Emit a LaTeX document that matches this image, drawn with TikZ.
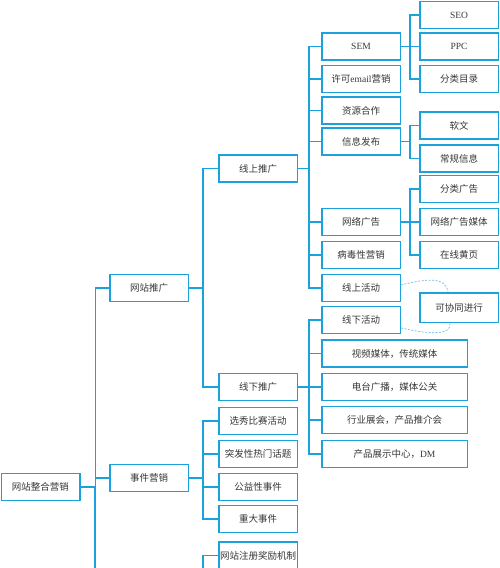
\documentclass[tikz,border=0pt]{standalone}
\usepackage{fontspec}
\setmainfont{Liberation Serif}
\newfontfamily\cjk{Noto Sans CJK SC}
\usepackage{xcolor}
\usepackage{tikz}
\usetikzlibrary{calc}
\usetikzlibrary{positioning}

\definecolor{lineblue}{RGB}{27,161,220}
\definecolor{dashblue}{RGB}{125,192,232}
\definecolor{textgray}{RGB}{55,55,55}

\begin{document}
\begin{tikzpicture}[
    x = 1pt,
    y = -1pt,
    font = \fontsize{9.5}{11}\selectfont,
    boxf/.style = {
      rectangle,
      draw=lineblue,
      fill=white,
      line width=1.5pt,
      text=textgray,
      minimum width=78.5pt,
      minimum height=27pt,
      inner sep=1pt
    },
    widef/.style = {
      boxf,
      minimum width=145.5pt
    },
    linkf/.style = {
      draw=lineblue,
      line width=1.4pt
    },
    dashf/.style = {
      draw=dashblue,
      line width=0.8pt,
      dash pattern=on 2pt off 1.5pt
    }
  ]
    \useasboundingbox (0,0) rectangle (500,568);

    % root and first level
    \node[boxf] (root) at (40.5,487) {\cjk 网站整合营销};
    \node[boxf] (wzgt) at (149,288) {\cjk 网站推广};
    \node[boxf] (sjyx) at (149,478) {\cjk 事件营销};

    % second level
    \node[boxf] (xsgt) at (258,168.5) {\cjk 线上推广};
    \node[boxf] (xxgt) at (258,387) {\cjk 线下推广};
    \node[boxf] (xxbs) at (258,421) {\cjk 选秀比赛活动};
    \node[boxf] (tfrm) at (258,454) {\cjk 突发性热门话题};
    \node[boxf] (gysj) at (258,487) {\cjk 公益性事件};
    \node[boxf] (zdsj) at (258,519) {\cjk 重大事件};
    \node[boxf] (zcjl) at (258,555.5) {\cjk 网站注册奖励机制};

    % third level
    \node[boxf] (sem) at (361,46.7) {SEM};
    \node[boxf] (email) at (361,79) {{\cjk 许可}email{\cjk 营销}};
    \node[boxf] (zyhz) at (361,110.5) {\cjk 资源合作};
    \node[boxf] (xxfb) at (361,141.5) {\cjk 信息发布};
    \node[boxf] (wlgg) at (361,222) {\cjk 网络广告};
    \node[boxf] (bdyx) at (361,255) {\cjk 病毒性营销};
    \node[boxf] (xshd) at (361,288) {\cjk 线上活动};
    \node[boxf] (xxhd) at (361,320) {\cjk 线下活动};
    \node[widef] (spmt) at (394.5,353.5) {\cjk 视频媒体，传统媒体};
    \node[widef] (dtgb) at (394.5,387) {\cjk 电台广播，媒体公关};
    \node[widef] (hyzh) at (394.5,420) {\cjk 行业展会，产品推介会};
    \node[widef] (cpzs) at (394.5,454) {{\cjk 产品展示中心，}DM};

    % fourth level
    \node[boxf] (seo) at (459,15) {SEO};
    \node[boxf] (ppc) at (459,46.5) {PPC};
    \node[boxf] (flml) at (459,79) {\cjk 分类目录};
    \node[boxf] (rw) at (459,125.5) {\cjk 软文};
    \node[boxf] (cgxx) at (459,158.5) {\cjk 常规信息};
    \node[boxf] (flgg) at (459,189) {\cjk 分类广告};
    \node[boxf] (wlmt) at (459,222) {\cjk 网络广告媒体};
    \node[boxf] (zxhy) at (459,255) {\cjk 在线黄页};
    \node[boxf, minimum height=29.5pt] (kxt) at (459,307.5) {\cjk 可协同进行};

    % loose ends below the page edge
    \coordinate (trunkend) at (95,572);
    \coordinate (busend) at (203,572);

    \draw[linkf] (root.east) -- ++(15,0) |- (wzgt.west);
    \draw[linkf] (root.east) -- ++(15,0) |- (sjyx.west);
    \draw[linkf] (root.east) -| (trunkend);

    \draw[linkf] (wzgt.east) -- ++(14,0) |- (xsgt.west);
    \draw[linkf] (wzgt.east) -- ++(14,0) |- (xxgt.west);

    \draw[linkf] (sjyx.east) -- ++(14,0) |- (xxbs.west);
    \draw[linkf] (sjyx.east) -- ++(14,0) |- (tfrm.west);
    \draw[linkf] (sjyx.east) -- ++(14,0) |- (gysj.west);
    \draw[linkf] (sjyx.east) -- ++(14,0) |- (zdsj.west);
    \draw[linkf] (zcjl.west) -| (busend);

    \draw[linkf] (xsgt.east) -- ++(11,0) |- (sem.west);
    \draw[linkf] (xsgt.east) -- ++(11,0) |- (email.west);
    \draw[linkf] (xsgt.east) -- ++(11,0) |- (zyhz.west);
    \draw[linkf] (xsgt.east) -- ++(11,0) |- (xxfb.west);
    \draw[linkf] (xsgt.east) -- ++(11,0) |- (wlgg.west);
    \draw[linkf] (xsgt.east) -- ++(11,0) |- (bdyx.west);
    \draw[linkf] (xsgt.east) -- ++(11,0) |- (xshd.west);

    \draw[linkf] (xxgt.east) -- ++(11,0) |- (xxhd.west);
    \draw[linkf] (xxgt.east) -- ++(11,0) |- (spmt.west);
    \draw[linkf] (xxgt.east) -- ++(11,0) |- (dtgb.west);
    \draw[linkf] (xxgt.east) -- ++(11,0) |- (hyzh.west);
    \draw[linkf] (xxgt.east) -- ++(11,0) |- (cpzs.west);

    \draw[linkf] (sem.east) -- ++(9,0) |- (seo.west);
    \draw[linkf] (sem.east) -- ++(9,0) |- (ppc.west);
    \draw[linkf] (sem.east) -- ++(9,0) |- (flml.west);

    \draw[linkf] (xxfb.east) -- ++(9,0) |- (rw.west);
    \draw[linkf] (xxfb.east) -- ++(9,0) |- (cgxx.west);

    \draw[linkf] (wlgg.east) -- ++(9,0) |- (flgg.west);
    \draw[linkf] (wlgg.east) -- ++(9,0) |- (wlmt.west);
    \draw[linkf] (wlgg.east) -- ++(9,0) |- (zxhy.west);

    \draw[dashf] ([yshift=3pt]xshd.east) .. controls (425,279) and (446,276) .. ([xshift=-11pt]kxt.north);
    \draw[dashf] ([yshift=-8pt]xxhd.east) .. controls (428,334) and (452,336) .. ([xshift=-9pt]kxt.south);

  \end{tikzpicture}
\end{document}
